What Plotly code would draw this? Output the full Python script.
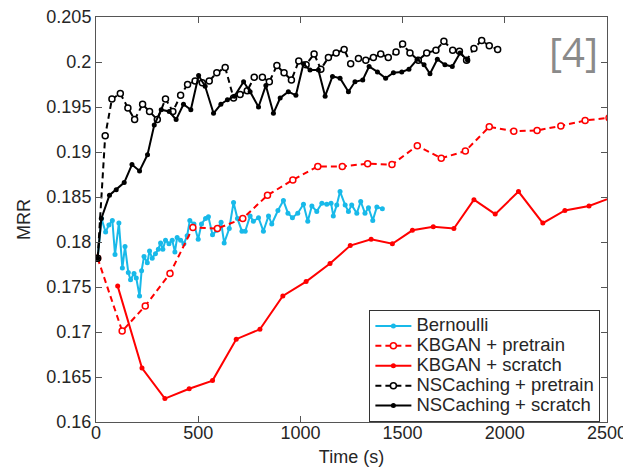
import plotly.graph_objects as go

# ---------------- data ----------------
bern_x = [8, 27, 47, 63, 80, 93, 112, 129, 142, 158, 169, 186, 197, 213, 223, 235, 251, 262, 275, 291,
          305, 316, 327, 340, 357, 373, 386, 397, 414, 430, 446, 459, 479, 500, 516, 536, 550, 570, 591, 612,
          627, 652, 673, 692, 714, 730, 754, 770, 795, 819, 844, 860, 890, 917, 939, 961, 987, 1015, 1036, 1056,
          1080, 1105, 1129, 1150, 1161, 1178, 1194, 1219, 1235, 1251, 1276, 1295, 1316, 1333, 1354, 1374, 1401]
bern_y = [0.1782, 0.1826, 0.1811, 0.1819, 0.1824, 0.1786, 0.1821, 0.1771, 0.1795, 0.1766,
          0.1758, 0.1765, 0.1760, 0.1740, 0.1768, 0.1784, 0.1777, 0.1790, 0.1782, 0.1787,
          0.1792, 0.1799, 0.1792, 0.1802, 0.1798, 0.1802, 0.1789, 0.1805, 0.1802, 0.1798,
          0.1807, 0.1824, 0.1820, 0.1803, 0.1820, 0.1826, 0.1828, 0.1808, 0.1813, 0.1822,
          0.1799, 0.1815, 0.1844, 0.1826, 0.1812, 0.1812, 0.1829, 0.1823, 0.1827, 0.1812,
          0.1829, 0.1820, 0.1835, 0.1846, 0.1832, 0.1827, 0.1832, 0.1842, 0.1823, 0.1840,
          0.1834, 0.1843, 0.1842, 0.1843, 0.1829, 0.1841, 0.1856, 0.1841, 0.1834, 0.1841,
          0.1832, 0.1845, 0.1832, 0.1838, 0.1824, 0.1839, 0.1837]

kbp_x = [8, 128, 241, 362, 474, 594, 718, 839, 963, 1085, 1205, 1329, 1448, 1572, 1689, 1807,
         1924, 2044, 2158, 2274, 2393, 2510]
kbp_y = [0.1782, 0.1701, 0.1729, 0.1765, 0.1816, 0.1815, 0.1826, 0.1852, 0.1869, 0.1884, 0.1884,
         0.1887, 0.1886, 0.1907, 0.1893, 0.1901, 0.1928, 0.1923, 0.1924, 0.1929, 0.1935, 0.1938]

kbs_x = [106, 225, 337, 456, 570, 686, 802, 914, 1028, 1145, 1244, 1346, 1450, 1548, 1650, 1751,
         1849, 1953, 2067, 2186, 2294, 2412, 2530]
kbs_y = [0.1751, 0.1660, 0.1626, 0.1637, 0.1646, 0.1692, 0.1703, 0.1740, 0.1756, 0.1776, 0.1796,
         0.1803, 0.1798, 0.1813, 0.1817, 0.1815, 0.1847, 0.1831, 0.1856, 0.1821, 0.1835, 0.1840, 0.1850]

nsp_x = [8, 45, 78, 119, 156, 189, 228, 262, 300, 340, 376, 414, 448, 485, 520, 554, 591, 632, 673, 705,
         740, 774, 814, 848, 885, 920, 956, 992, 1028, 1067, 1100, 1137, 1175, 1214, 1246, 1284, 1320, 1357,
         1393, 1430, 1468, 1500, 1536, 1577, 1618, 1663, 1702, 1745, 1778, 1813, 1849, 1887, 1924, 1965]
nsp_y = [0.1782, 0.1918, 0.1959, 0.1965, 0.1949, 0.1936, 0.1953, 0.1945, 0.1936, 0.1959,
         0.1945, 0.1963, 0.1975, 0.1979, 0.1977, 0.1979, 0.1988, 0.1994, 0.1960, 0.1964,
         0.1968, 0.1983, 0.1983, 0.1978, 0.1996, 0.1988, 0.1980, 0.2001, 0.1997, 0.2009,
         0.1992, 0.2005, 0.2010, 0.2014, 0.1998, 0.2004, 0.2002, 0.2005, 0.2009, 0.2005,
         0.2011, 0.2020, 0.2010, 0.2002, 0.2010, 0.2013, 0.2023, 0.2013, 0.2012, 0.2002,
         0.2015, 0.2024, 0.2018, 0.2014]

nss_x = [8, 26, 66, 99, 138, 176, 213, 252, 285, 319, 358, 392, 428, 464, 502, 534, 575, 611, 643, 677,
         722, 754, 795, 831, 868, 901, 941, 978, 1015, 1047, 1088, 1121, 1157, 1194, 1235, 1267, 1305, 1336,
         1377, 1417, 1455, 1496, 1531, 1572, 1605, 1634, 1670, 1707, 1743, 1781, 1818]
nss_y = [0.1782, 0.1826, 0.1852, 0.1858, 0.1866, 0.1886, 0.1879, 0.1897, 0.1930, 0.1947,
         0.1945, 0.1936, 0.1953, 0.1947, 0.1985, 0.1973, 0.1943, 0.1953, 0.1958, 0.1962,
         0.1978, 0.1967, 0.1950, 0.1974, 0.1943, 0.1960, 0.1967, 0.1963, 0.1998, 0.1991,
         0.1991, 0.1962, 0.1984, 0.1982, 0.1967, 0.1978, 0.1980, 0.1995, 0.1989, 0.1982,
         0.1988, 0.1989, 0.1992, 0.2003, 0.1997, 0.1987, 0.2003, 0.1997, 0.1995, 0.2010, 0.2002]

series_names = ["Bernoulli", "KBGAN + pretrain", "KBGAN + scratch",
                "NSCaching + pretrain", "NSCaching + scratch"]

x_ticks = [0, 500, 1000, 1500, 2000, 2500]
x_tick_labels = ["0", "500", "1000", "1500", "2000", "2500"]
y_ticks = [0.16, 0.165, 0.17, 0.175, 0.18, 0.185, 0.19, 0.195, 0.2, 0.205]
y_tick_labels = ["0.16", "0.165", "0.17", "0.175", "0.18", "0.185", "0.19", "0.195", "0.2", "0.205"]

# ---------------- figure ----------------
CYAN = "#18b9e9"
RED = "#ff0000"
BLACK = "#000000"
FONT = "Liberation Sans, Arial, sans-serif"
TXT = "#262626"
LEGEND_TEXT_PX = 18.5  # rendered size of legend labels
LEGEND_ROW_PX = 13     # base legend font (controls row spacing)

fig = go.Figure()

def label(name):
    return f"<span style='font-size:{LEGEND_TEXT_PX}px'>{name}</span>"

def solid(x, y, name, color):
    fig.add_trace(go.Scatter(
        x=x, y=y, name=label(name), mode="lines+markers",
        line=dict(color=color, width=2),
        marker=dict(symbol="circle", size=5, color=color),
    ))

def dashed(x, y, name, color):
    fig.add_trace(go.Scatter(
        x=x, y=y, name=label(name), mode="lines+markers",
        line=dict(color=color, width=2, dash="6px,4px"),
        marker=dict(symbol="circle", size=6, color="white",
                    line=dict(color=color, width=1.5)),
    ))

solid(bern_x, bern_y, series_names[0], CYAN)
dashed(kbp_x, kbp_y, series_names[1], RED)
solid(kbs_x, kbs_y, series_names[2], RED)
dashed(nsp_x, nsp_y, series_names[3], BLACK)
solid(nss_x, nss_y, series_names[4], BLACK)

axis_common = dict(
    showgrid=False, zeroline=False, automargin=False,
    showline=True, linecolor="#555555", linewidth=1, mirror="ticks",
    ticks="inside", ticklen=6, tickcolor="#555555", tickwidth=1,
    tickfont=dict(family=FONT, size=18, color=TXT),
    ticklabeloverflow="allow",
)

fig.update_xaxes(range=[0, 2500], tickvals=x_ticks, ticktext=x_tick_labels,
                 ticklabelstandoff=-6,
                 title=dict(text="Time (s)", font=dict(family=FONT, size=18, color=TXT), standoff=8),
                 **axis_common)
fig.update_yaxes(range=[0.16, 0.205], tickvals=y_ticks, ticktext=y_tick_labels,
                 title=dict(text="MRR", font=dict(family=FONT, size=18, color=TXT), standoff=11),
                 **axis_common)

fig.add_annotation(text="[4]", xref="paper", yref="paper", x=0.935, y=0.915,
                   showarrow=False, font=dict(family="Open Sans, sans-serif", size=40, color="#8a8a8a"),
                   xanchor="center", yanchor="middle")

fig.update_layout(
    width=623, height=470,
    margin=dict(l=96, r=16, t=17, b=48),
    plot_bgcolor="white", paper_bgcolor="white",
    font=dict(family=FONT, size=18, color=TXT),
    legend=dict(x=0.535, y=0.2765, xanchor="left", yanchor="top",
                bgcolor="white", bordercolor="#333333", borderwidth=1,
                font=dict(family=FONT, size=LEGEND_ROW_PX, color=TXT),
                itemwidth=36, tracegroupgap=0),
    showlegend=True,
)

fig.write_html("out.html")
